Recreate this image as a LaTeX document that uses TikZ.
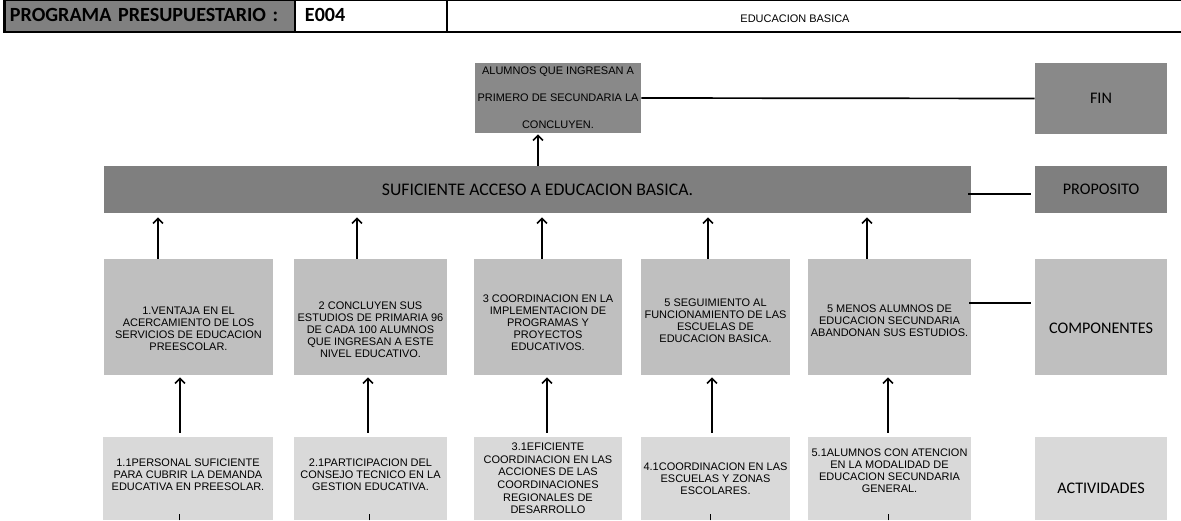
\documentclass[tikz,border=0pt]{standalone}
\usepackage{fontspec}
\setmainfont{Carlito}
\newfontfamily\arialf{Liberation Sans}
\usetikzlibrary{calc,arrows.meta}
\definecolor{hdrgray}{RGB}{128,128,128}
\definecolor{fingray}{RGB}{137,137,137}
\definecolor{propgray}{RGB}{127,127,127}
\definecolor{compgray}{RGB}{191,191,191}
\definecolor{actgray}{RGB}{217,217,217}

\begin{document}
\begin{tikzpicture}[x=0.025cm, y=-0.025cm,
  cell/.style={rectangle, inner sep=0pt, align=center},
  txt/.style={font=\arialf\fontsize{7.8}{8.5}\selectfont, align=center, inner sep=0pt},
  lbl/.style={font=\fontsize{11.5}{13}\selectfont, inner sep=0pt},
  conn/.style={line width=1.2pt},
  arr/.style={line width=1.2pt, -{Straight Barb[length=3.5pt,width=7pt]}}]
\useasboundingbox (0,0) rectangle (1181,520);

\node[cell, draw, line width=0.8pt, fill=hdrgray, minimum width=7.25cm, minimum height=0.8cm, text width=7cm, align=left, font=\bfseries\fontsize{14.3}{14}\selectfont] (hdr1) at (150,16) {\raisebox{-4pt}[0pt][0pt]{PROGRAMA PRESUPUESTARIO :}};
\node[cell, draw, line width=0.8pt, minimum width=3.8cm, minimum height=0.8cm, text width=3.3cm, align=left, font=\bfseries\fontsize{14.3}{14}\selectfont] (hdr2) at (371,16) {\raisebox{-4pt}[0pt][0pt]{E004}};
\node[cell, draw, line width=0.8pt, minimum width=18.35cm, minimum height=0.8cm] (hdr3) at (814,16) {};
\node[cell, font=\arialf\fontsize{7.8}{8}\selectfont] (hdrtxt) at (795,19) {EDUCACION BASICA};
\draw[line width=1.6pt] (hdr1.north west) -- (hdr3.north east);
\draw[line width=1.6pt] (hdr1.north west) -- (hdr1.south west);

\node[cell, txt, fill=fingray, minimum width=4.15cm, minimum height=1.75cm, font=\arialf\fontsize{7.8}{19.2}\selectfont] (fin) at (558,98) {ALUMNOS QUE INGRESAN A\\PRIMERO DE SECUNDARIA LA\\CONCLUYEN.};
\node[cell, lbl, fill=fingray, minimum width=3.3cm, minimum height=1.775cm] (finlbl) at (1101,98.5) {FIN};

\node[cell, lbl, fill=propgray, minimum width=21.675cm, minimum height=1.175cm, font=\fontsize{12.6}{14}\selectfont] (bar) at (537.5,189.5) {SUFICIENTE ACCESO A EDUCACION BASICA.};
\node[cell, lbl, fill=propgray, minimum width=3.3cm, minimum height=1.175cm] (proplbl) at (1101,189.5) {PROPOSITO};

\node[cell, fill=compgray, minimum width=4.225cm, minimum height=2.9cm, label={[txt, yshift=-0.3cm]center:1.VENTAJA EN EL\\ACERCAMIENTO DE LOS\\SERVICIOS DE EDUCACION\\PREESCOLAR.}] (comp1) at (188.5,317) {};
\node[cell, fill=compgray, minimum width=3.825cm, minimum height=2.9cm, label={[txt, yshift=-0.32cm]center:2 CONCLUYEN SUS\\ESTUDIOS DE PRIMARIA 96\\DE CADA 100 ALUMNOS\\QUE INGRESAN A ESTE\\NIVEL EDUCATIVO.}] (comp2) at (370.5,317) {};
\node[cell, fill=compgray, minimum width=3.7cm, minimum height=2.9cm, label={[txt, yshift=-0.15cm]center:3 COORDINACION EN LA\\IMPLEMENTACION DE\\PROGRAMAS Y\\PROYECTOS\\EDUCATIVOS.}] (comp3) at (548,317) {};
\node[cell, fill=compgray, minimum width=3.725cm, minimum height=2.9cm, label={[txt, yshift=-0.1cm]center:5 SEGUIMIENTO AL\\FUNCIONAMIENTO DE LAS\\ESCUELAS DE\\EDUCACION BASICA.}] (comp4) at (715.5,317) {};
\node[cell, fill=compgray, minimum width=4.075cm, minimum height=2.9cm, label={[txt, yshift=-0.1cm]center:5 MENOS ALUMNOS DE\\EDUCACION SECUNDARIA\\ABANDONAN SUS ESTUDIOS.}] (comp5) at (889.5,317) {};
\node[cell, fill=compgray, minimum width=3.3cm, minimum height=2.9cm, label={[lbl, yshift=-0.27cm]center:COMPONENTES}] (complbl) at (1101,317) {};

\node[cell, fill=actgray, minimum width=4.25cm, minimum height=2.075cm, label={[txt, yshift=0.09cm]center:1.1PERSONAL SUFICIENTE\\PARA CUBRIR LA DEMANDA\\EDUCATIVA EN PREESOLAR.}] (act1) at (188,478.5) {};
\node[cell, fill=actgray, minimum width=3.825cm, minimum height=2.075cm, label={[txt, yshift=0.09cm]center:2.1PARTICIPACION DEL\\CONSEJO TECNICO EN LA\\GESTION EDUCATIVA.}] (act2) at (370.5,478.5) {};
\node[cell, fill=actgray, minimum width=3.7cm, minimum height=2.075cm, label={[txt, font=\arialf\fontsize{7.8}{9}\selectfont]center:3.1EFICIENTE\\COORDINACION EN LAS\\ACCIONES DE LAS\\COORDINACIONES\\REGIONALES DE\\DESARROLLO}] (act3) at (548,478.5) {};
\node[cell, fill=actgray, minimum width=3.725cm, minimum height=2.075cm, label={[txt]center:4.1COORDINACION EN LAS\\ESCUELAS Y ZONAS\\ESCOLARES.}] (act4) at (715.5,478.5) {};
\node[cell, fill=actgray, minimum width=4.075cm, minimum height=2.075cm, label={[txt, yshift=0.2cm]center:5.1ALUMNOS CON ATENCION\\EN LA MODALIDAD DE\\EDUCACION  SECUNDARIA\\GENERAL.}] (act5) at (889.5,478.5) {};
\node[cell, fill=actgray, minimum width=3.3cm, minimum height=2.075cm, label={[lbl, yshift=-0.24cm]center:ACTIVIDADES}] (actlbl) at (1101,478.5) {};

\draw[conn] (fin.east) -- (finlbl.west);
\draw[conn] ($(bar.east)+(-3,4.5)$) -- ($(proplbl.west)+(-4,4.5)$);
\draw[conn] ($(comp5.east)+(-2,-14)$) -- ($(complbl.west)+(-4,-14)$);

\draw[arr] ($(bar.north)+(0.5,0)$) -- ($(bar.north |- fin.south)+(0.5,1)$);

\draw[arr] ($(comp1.north)+(-30.5,0)$) -- ($(comp1.north |- bar.south)+(-30.5,4)$);
\draw[arr] ($(comp2.north)+(-13.5,0)$) -- ($(comp2.north |- bar.south)+(-13.5,4)$);
\draw[arr] ($(comp3.north)+(-6,0)$) -- ($(comp3.north |- bar.south)+(-6,4)$);
\draw[arr] ($(comp4.north)+(-7.5,0)$) -- ($(comp4.north |- bar.south)+(-7.5,4)$);
\draw[arr] ($(comp5.north)+(-22.5,0)$) -- ($(comp5.north |- bar.south)+(-22.5,4)$);

\draw[arr] ($(act1.north)+(-8,-4)$) -- ($(comp1.south)+(-8.5,2)$);
\draw[arr] ($(act2.north)+(-2.5,-4)$) -- ($(comp2.south)+(-2.5,2)$);
\draw[arr] ($(act3.north)+(-1,-4)$) -- ($(comp3.south)+(-1,2)$);
\draw[arr] ($(act4.north)+(-3.5,-4)$) -- ($(comp4.south)+(-3.5,2)$);
\draw[arr] ($(act5.north)+(-1.5,-4)$) -- ($(comp5.south)+(-1.5,2)$);

\draw[line width=0.6pt] ($(act1.south)+(-9,0)$) -- ($(act1.south)+(-9,-6)$);
\draw[line width=0.6pt] ($(act2.south)+(-1.5,0)$) -- ($(act2.south)+(-1.5,-6)$);
\draw[line width=0.6pt] ($(act4.south)+(-5.5,0)$) -- ($(act4.south)+(-5.5,-6)$);
\draw[line width=0.6pt] ($(act5.south)+(-1.5,0)$) -- ($(act5.south)+(-1.5,-6)$);

\end{tikzpicture}
\end{document}
